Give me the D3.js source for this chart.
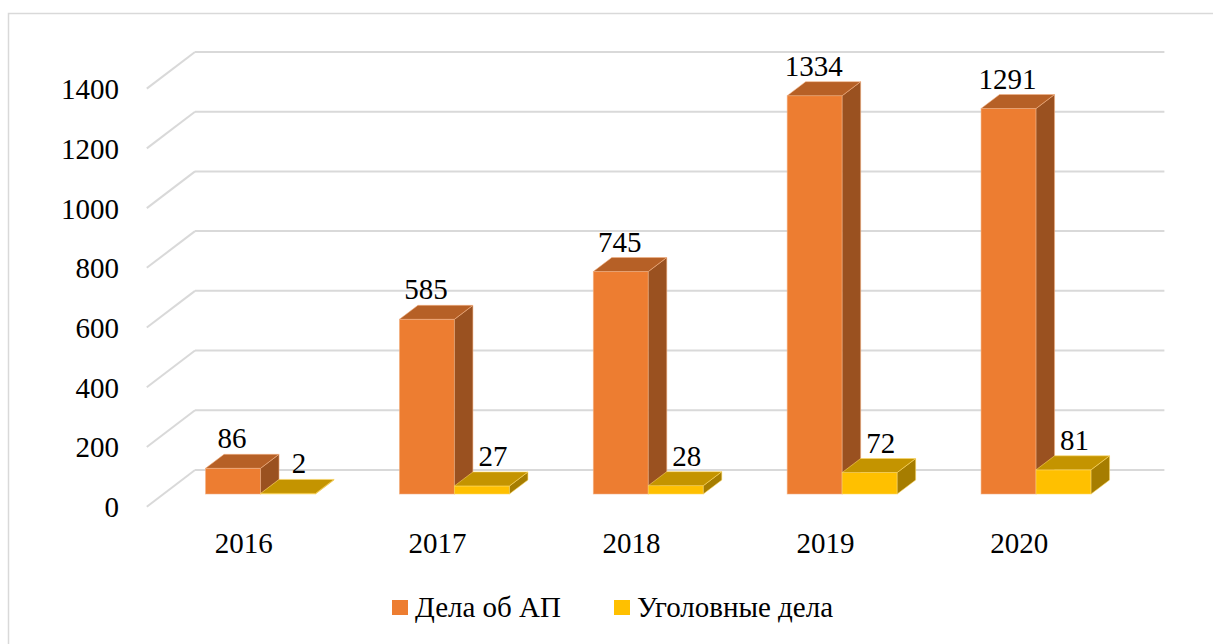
<!DOCTYPE html>
<html>
<head>
<meta charset="utf-8">
<script src="https://cdn.jsdelivr.net/npm/d3@7"></script>
<style>
  html, body { margin: 0; padding: 0; background: #fff; }
  svg { display: block; }
  svg text { font-family: "Liberation Serif", "Times New Roman", serif !important; }
</style>
</head>
<body>
<svg id="chart" width="1213" height="644"></svg>
<script>
// Data
const years = ["2016", "2017", "2018", "2019", "2020"];
const adminCases = [86, 585, 745, 1334, 1291];     // Дела об АП
const criminalCases = [2, 27, 28, 72, 81];         // Уголовные дела
const seriesNames = ["Дела об АП", "Уголовные дела"];
const yTicks = [0, 200, 400, 600, 800, 1000, 1200, 1400];

const FONT = "Liberation Serif";

const series = [
  { name: seriesNames[0], values: adminCases, front: "#ED7D31", top: "#B66026", side: "#9A5120", edge: "#F4B183", labelDx: -1 },
  { name: seriesNames[1], values: criminalCases, front: "#FFC000", top: "#C49400", side: "#A67D00", edge: "#FFD966", labelDx: 11 }
];

const svg = d3.select("#chart");

// Text helper: serif labels at the chart's label size
function label(sel) {
  return sel.attr("font-family", FONT)
    .style("font-family", "'Liberation Serif', serif", "important")
    .attr("font-size", 29)
    .attr("fill", "#000");
}

// Outer chart frame
svg.append("rect")
  .attr("x", 8.5).attr("y", 13.5).attr("width", 1300).attr("height", 700)
  .attr("fill", "none").attr("stroke", "#d9d9d9").attr("stroke-width", 1.5);

// Oblique projection: the bar front faces sit on the "bar plane";
// the back wall and the front edge are offset from it.
const BACK = { dx: 31.4, dy: -24 };   // back wall relative to bar fronts
const FRONT = { dx: -16.8, dy: 12.7 }; // front edge relative to bar fronts
const DEPTH = { dx: 18.5, dy: -14 };  // depth of each bar

const y = d3.scaleLinear().domain([0, 1400]).range([494, 494 - 1400 * 0.2986]);
const x0 = d3.scaleBand().domain(years).range([163.6, 1133]).padding(0);
const groupW = 110;
const x1 = d3.scaleBand().domain(seriesNames)
  .range([(x0.bandwidth() - groupW) / 2, (x0.bandwidth() + groupW) / 2]).padding(0);

// Gridlines: back wall horizontals + left wall diagonals
const grid = svg.append("g").attr("stroke", "#d9d9d9").attr("stroke-width", 2).attr("fill", "none");
const backLeft = x0.range()[0] + BACK.dx;
const backRight = x0.range()[1] + BACK.dx;
yTicks.forEach(t => {
  const yb = y(t) + BACK.dy;
  grid.append("line").attr("x1", backLeft).attr("x2", backRight).attr("y1", yb).attr("y2", yb);
  grid.append("line")
    .attr("x1", backLeft).attr("y1", yb)
    .attr("x2", x0.range()[0] + FRONT.dx).attr("y2", y(t) + FRONT.dy);
});

// Y tick labels (front edge)
label(svg.append("g").selectAll("text").data(yTicks).join("text"))
  .attr("x", 119)
  .attr("y", d => y(d) + FRONT.dy + 10.5)
  .attr("text-anchor", "end")
  .text(d => d);

// Bars as oblique prisms
const bars = svg.append("g");
years.forEach((yr, i) => {
  series.forEach(s => {
    const v = s.values[i];
    const xl = x0(yr) + x1(s.name);
    const xr = xl + x1.bandwidth();
    const yt = y(v), yb = y(0);
    const g = bars.append("g").attr("stroke", s.edge).attr("stroke-width", 0.8).attr("stroke-opacity", 0.7);
    // front face
    g.append("rect").attr("x", xl).attr("y", yt).attr("width", xr - xl).attr("height", Math.max(yb - yt, 0.5))
      .attr("fill", s.front);
    // side face
    g.append("path").attr("fill", s.side)
      .attr("d", `M${xr},${yt}L${xr + DEPTH.dx},${yt + DEPTH.dy}L${xr + DEPTH.dx},${yb + DEPTH.dy}L${xr},${yb}Z`);
    // top face
    g.append("path").attr("fill", s.top)
      .attr("d", `M${xl},${yt}L${xl + DEPTH.dx},${yt + DEPTH.dy}L${xr + DEPTH.dx},${yt + DEPTH.dy}L${xr},${yt}Z`);
  });
});

// Value labels
years.forEach((yr, i) => {
  series.forEach(s => {
    const v = s.values[i];
    const cx = x0(yr) + x1(s.name) + x1.bandwidth() / 2 + s.labelDx;
    label(svg.append("text"))
      .attr("x", cx)
      .attr("y", y(v) + DEPTH.dy - 6)
      .attr("text-anchor", "middle")
      .text(v);
  });
});

// Category labels (front edge)
label(svg.append("g").selectAll("text").data(years).join("text"))
  .attr("x", d => x0(d) + x0.bandwidth() / 2 + FRONT.dx)
  .attr("y", 553)
  .attr("text-anchor", "middle")
  .text(d => d);

// Legend
const legendX = [392, 614];
const legend = svg.append("g");
series.forEach((s, k) => {
  legend.append("rect").attr("x", legendX[k]).attr("y", 600).attr("width", 16).attr("height", 15).attr("fill", s.front);
  label(legend.append("text")).attr("x", legendX[k] + 23).attr("y", 617).text(s.name);
});
</script>
</body>
</html>
